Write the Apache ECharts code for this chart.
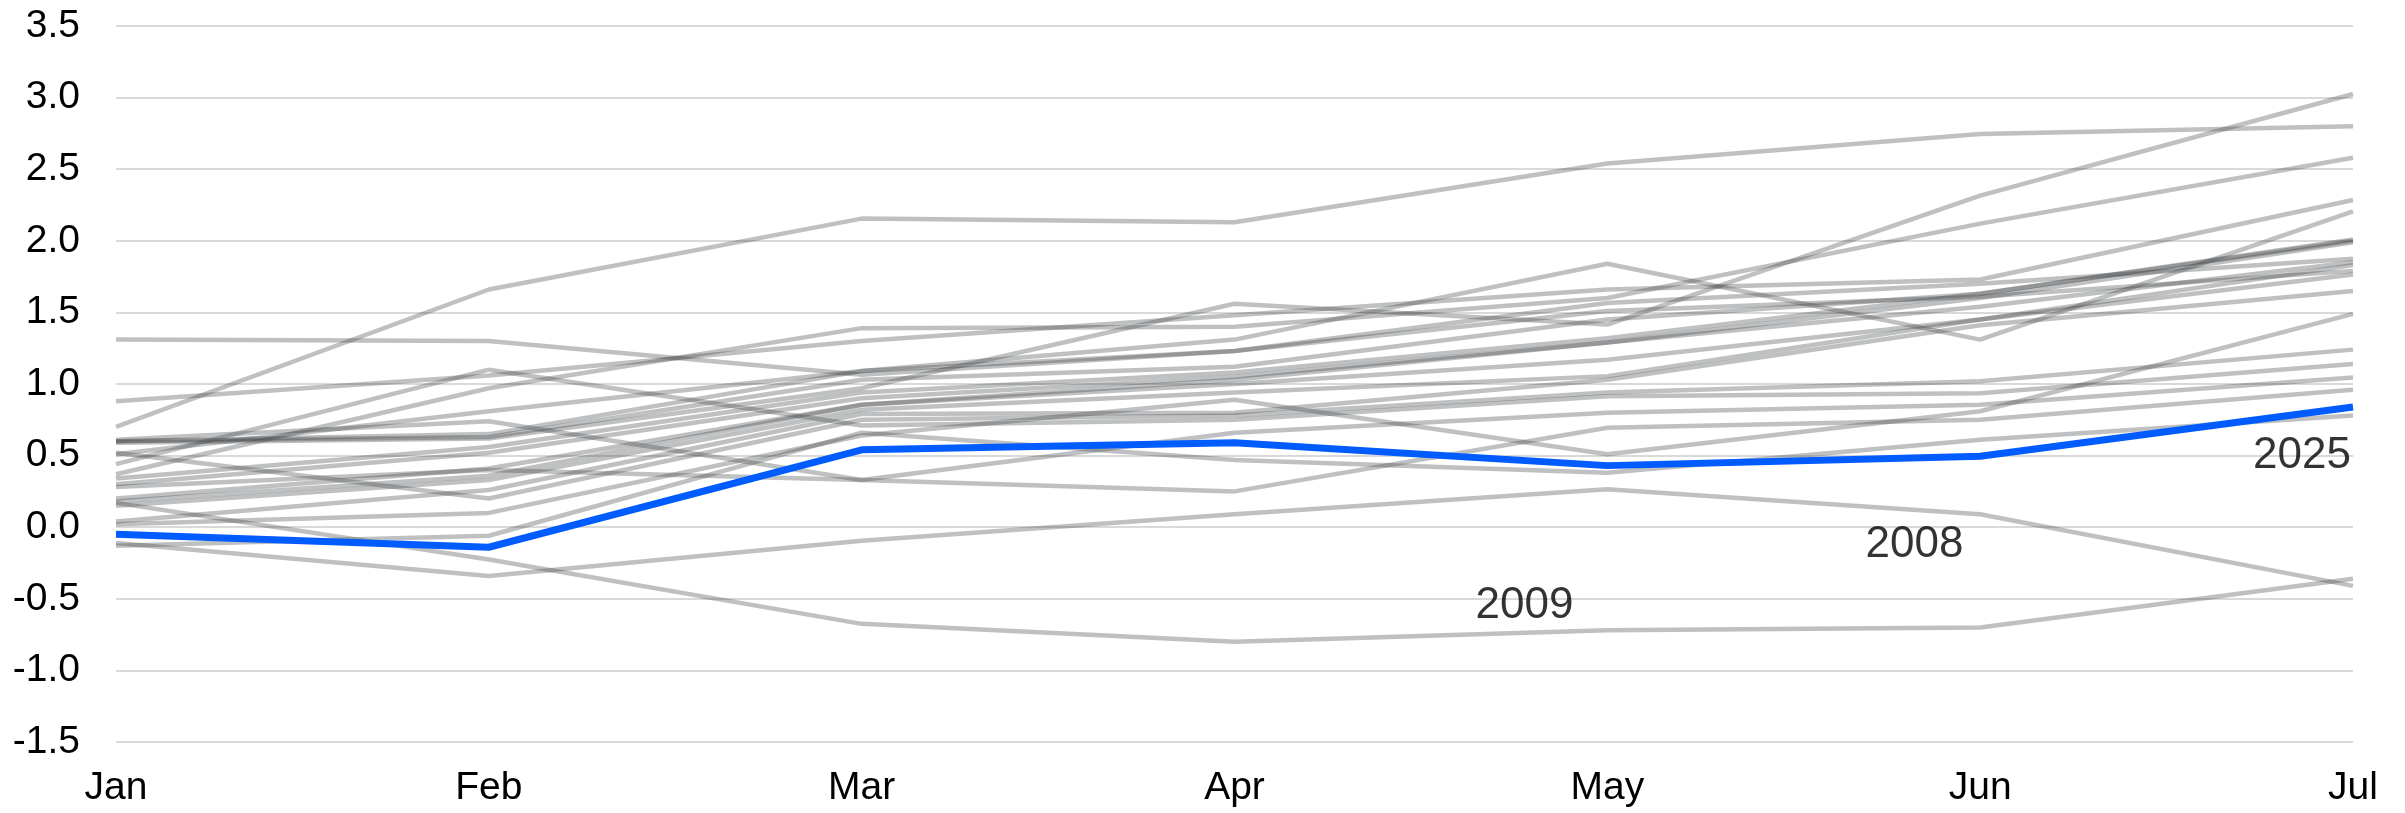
<!DOCTYPE html>
<html>
<head>
<meta charset="utf-8">
<script src="https://cdn.jsdelivr.net/npm/echarts@6/dist/echarts.min.js"></script>
<style>
html,body{margin:0;padding:0;background:#fff;}
#chart{width:2405px;height:813px;}
</style>
</head>
<body>
<div id="chart"></div>
<script>
// ---- data ----
const months = ['Jan','Feb','Mar','Apr','May','Jun','Jul'];

const yMin = -1.5, yMax = 3.5, yStep = 0.5;

// grey comparison years (cumulative change, Jan..Jul)
const g01 = [0.70, 1.66, 2.155, 2.13, 2.54, 2.745, 2.80];
const g02 = [0.59, 0.62, 0.97, 1.56, 1.415, 2.315, 3.025];
const g03 = [0.37, 0.97, 1.39, 1.40, 1.60, 2.12, 2.58];
const g04 = [0.51, 0.81, 1.09, 1.31, 1.84, 1.31, 2.205];
const g05 = [0.88, 1.06, 1.30, 1.48, 1.66, 1.73, 2.285];
const g06 = [0.60, 0.65, 1.09, 1.23, 1.565, 1.70, 1.875];
const g07 = [1.31, 1.30, 1.065, 1.23, 1.51, 1.61, 1.79];
const g08 = [0.60, 0.63, 1.03, 1.12, 1.45, 1.63, 2.01];
const g09 = [0.34, 0.56, 0.94, 1.08, 1.32, 1.63, 2.00];
const g10 = [0.30, 0.52, 0.90, 1.05, 1.29, 1.54, 1.85];
const g11 = [0.20, 0.41, 0.855, 1.03, 1.29, 1.60, 1.99];
const g12 = [0.18, 0.36, 0.855, 1.00, 1.17, 1.45, 1.83];
const g13 = [0.15, 0.33, 0.82, 0.94, 1.055, 1.45, 1.765];
const g14 = [0.04, 0.26, 0.79, 0.80, 1.03, 1.41, 1.65];
const g15 = [0.52, 0.20, 0.75, 0.78, 0.94, 1.02, 1.24];
const g16 = [0.44, 1.10, 0.71, 0.75, 0.915, 0.935, 1.14];
const g17 = [-0.13, -0.06, 0.66, 0.47, 0.38, 0.61, 0.78];
const g18 = [0.02, 0.10, 0.64, 0.89, 0.51, 0.81, 1.49];
const g19 = [0.61, 0.74, 0.33, 0.66, 0.80, 0.855, 1.045];
const g20 = [0.28, 0.40, 0.33, 0.25, 0.695, 0.75, 0.96];
const y2008 = [-0.11, -0.34, -0.095, 0.09, 0.265, 0.09, -0.41];
const y2009 = [0.17, -0.225, -0.675, -0.80, -0.72, -0.70, -0.36];

// highlighted year
const y2025 = [-0.05, -0.14, 0.54, 0.59, 0.43, 0.495, 0.84];

// annotation labels (month index position, value position)
const annoText = ['2025', '2008', '2009'];
const annoX = [5.863, 4.824, 3.778];
const annoY = [0.497, -0.124, -0.55];

// ---- chart ----
const greyLines = [g01,g02,g03,g04,g05,g06,g07,g08,g09,g10,g11,g12,g13,g14,g15,g16,g17,g18,g19,g20,y2008,y2009];
const GREY = 'rgba(60,63,67,0.33)';
const FONT = '"Liberation Sans", Arial, Helvetica, sans-serif';

const series = greyLines.map(function (arr, i) {
  return {
    type: 'line', name: 'g' + i, data: arr, symbol: 'none', silent: true,
    xAxisIndex: 0, yAxisIndex: 0,
    lineStyle: { color: GREY, width: 4.5 }, z: 2
  };
});
series.push({
  type: 'line', name: '2025', data: y2025, symbol: 'none', silent: true,
  xAxisIndex: 0, yAxisIndex: 0,
  lineStyle: { color: '#005cff', width: 7 }, z: 5
});
series.push({
  type: 'scatter', name: 'labels', xAxisIndex: 1, yAxisIndex: 0,
  symbolSize: 0, silent: true, z: 10,
  itemStyle: { color: '#000' },
  data: annoText.map(function (t, i) { return [annoX[i], annoY[i], t]; }),
  label: {
    show: true, position: 'inside',
    formatter: function (p) { return p.value[2]; },
    color: '#000', fontSize: 44, fontFamily: FONT,
    textBorderWidth: 0, textShadowBlur: 0
  }
});

const chart = echarts.init(document.getElementById('chart'), null, { renderer: 'canvas' });
chart.setOption({
  animation: false,
  backgroundColor: '#fff',
  grid: { left: 116, right: 52, top: 26, bottom: 71, containLabel: false },
  xAxis: [{
    type: 'category', data: months, boundaryGap: false,
    axisLine: { show: false }, axisTick: { show: false },
    splitLine: { show: false },
    axisLabel: { color: '#000', fontSize: 39, fontFamily: FONT, margin: 27 }
  }, {
    type: 'value', min: 0, max: 6, show: false
  }],
  yAxis: {
    type: 'value', min: yMin, max: yMax, interval: yStep,
    axisLine: { show: false }, axisTick: { show: false },
    splitLine: { show: true, lineStyle: { color: '#d9d9d9', width: 2 } },
    axisLabel: {
      color: '#000', fontSize: 39, fontFamily: FONT, margin: 36,
      formatter: function (v) { return v.toFixed(1); }
    }
  },
  series: series
});
</script>
</body>
</html>
